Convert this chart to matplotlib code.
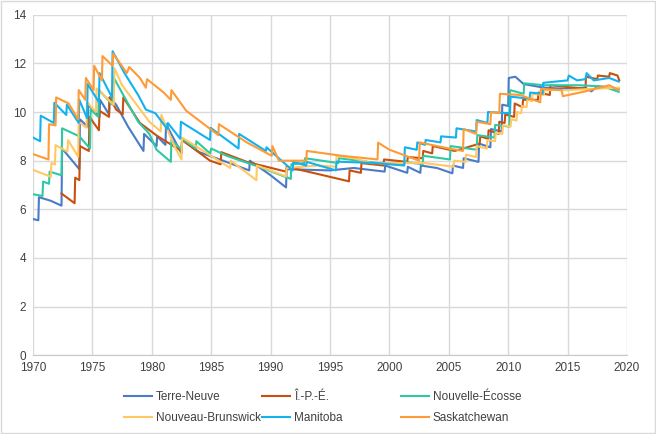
import matplotlib.pyplot as plt
from matplotlib.patches import Rectangle

plt.rcParams['font.family'] = ['Liberation Sans', 'DejaVu Sans']

# salaire minimum réel, points de rupture
tn_years = [1970.0, 1970.45, 1970.5, 1971.5, 1972.4, 1972.45, 1973.9, 1973.95, 1974.6, 1974.65,
            1975.6, 1975.65, 1976.4, 1976.45, 1977.0, 1978.0, 1979.3, 1979.35, 1980.4, 1980.45,
            1981.15, 1981.2, 1982.5, 1982.55, 1984.0, 1986.0, 1988.2, 1988.25, 1990.0, 1991.3,
            1991.35, 1995.0, 1997.0, 1999.6, 1999.65, 2001.5, 2001.55, 2002.6, 2002.65, 2004.0,
            2005.3, 2005.35, 2006.2, 2006.25, 2007.5, 2007.55, 2008.5, 2008.55, 2009.45, 2009.5,
            2010.0, 2010.05, 2010.6, 2011.3, 2013.0, 2015.0, 2016.5, 2017.0, 2017.5, 2019.3]
tn_vals = [5.6, 5.55, 6.5, 6.35, 6.15, 8.5, 7.65, 9.7, 9.4, 10.3,
           9.8, 10.5, 9.9, 10.6, 10.3, 9.4, 8.4, 9.1, 8.6, 9.0,
           8.65, 9.5, 8.3, 8.85, 8.35, 8.0, 7.6, 8.0, 7.4, 6.9,
           7.65, 7.6, 7.7, 7.55, 7.8, 7.5, 7.75, 7.5, 7.8, 7.7,
           7.48, 7.8, 7.7, 8.1, 7.95, 8.7, 8.55, 9.3, 9.2, 10.3,
           10.25, 11.4, 11.45, 11.15, 11.0, 10.95, 11.0, 10.85, 11.05, 10.95]

ipe_years = [1972.4, 1973.5, 1973.55, 1973.9, 1973.95, 1974.7, 1974.75, 1975.55, 1975.6, 1976.4,
             1976.45, 1977.0, 1977.55, 1977.6, 1979.0, 1980.5, 1982.5, 1982.55, 1984.9, 1985.8,
             1985.85, 1988.0, 1991.3, 1991.35, 1994.0, 1996.6, 1996.65, 1997.6, 1997.65, 1999.5,
             1999.55, 2001.5, 2001.55, 2002.8, 2002.85, 2003.6, 2003.65, 2005.5, 2007.6, 2007.65,
             2008.3, 2008.35, 2009.2, 2009.25, 2009.7, 2009.75, 2010.5, 2010.55, 2011.2, 2011.25,
             2012.5, 2012.55, 2013.5, 2013.55, 2016.5, 2016.55, 2017.5, 2017.55, 2018.5, 2018.55,
             2019.2, 2019.35]
ipe_vals = [6.65, 6.25, 7.3, 7.2, 8.6, 8.4, 9.8, 9.25, 10.05, 9.8,
            10.6, 10.1, 9.9, 10.6, 9.55, 9.0, 8.4, 8.85, 8.0, 7.85,
            8.35, 7.95, 7.55, 7.75, 7.45, 7.15, 7.6, 7.5, 7.9, 7.8,
            8.05, 7.95, 8.15, 8.1, 8.4, 8.3, 8.6, 8.4, 8.7, 9.0,
            8.9, 9.25, 9.1, 9.6, 9.55, 9.9, 9.8, 10.35, 10.2, 10.5,
            10.5, 10.8, 10.7, 11.1, 10.95, 11.45, 11.35, 11.5, 11.45, 11.6,
            11.5, 11.3]

ne_years = [1970.0, 1970.8, 1970.85, 1971.35, 1971.4, 1972.4, 1972.45, 1973.9, 1974.8, 1974.85,
            1975.5, 1975.55, 1976.7, 1976.75, 1977.6, 1978.85, 1979.8, 1980.4, 1981.6, 1981.65,
            1982.5, 1982.55, 1983.7, 1983.75, 1984.9, 1985.0, 1986.3, 1989.0, 1991.7, 1991.75,
            1992.85, 1992.9, 1995.7, 1995.75, 1999.0, 2001.2, 2001.25, 2002.8, 2002.85, 2005.1,
            2005.15, 2007.35, 2007.4, 2008.85, 2008.9, 2010.1, 2010.15, 2011.3, 2011.35, 2013.0,
            2016.0, 2018.0, 2019.3]
ne_vals = [6.62, 6.55, 7.14, 7.05, 7.55, 7.4, 9.33, 9.0, 8.5, 10.1,
           9.8, 10.9, 10.3, 11.45, 10.7, 9.6, 9.1, 8.45, 7.95, 8.85,
           8.45, 8.9, 8.5, 8.8, 8.3, 8.5, 8.2, 7.75, 7.25, 7.85,
           7.9, 8.1, 7.9, 8.1, 7.9, 7.82, 7.95, 7.85, 8.2, 8.05,
           8.6, 8.45, 9.05, 8.95, 9.47, 9.4, 10.9, 10.75, 11.18, 11.1,
           11.1, 11.05, 10.83]

nb_years = [1970.0, 1971.5, 1971.55, 1971.85, 1971.9, 1972.9, 1972.95, 1973.8, 1973.85, 1974.5,
            1974.55, 1975.3, 1975.35, 1976.8, 1976.85, 1977.5, 1979.8, 1980.75, 1980.8, 1981.9,
            1982.5, 1982.55, 1986.6, 1986.65, 1988.8, 1988.85, 1991.3, 1991.35, 1994.0, 1995.5,
            1995.55, 1997.0, 1998.5, 2003.0, 2005.4, 2005.45, 2006.4, 2006.45, 2007.3, 2007.35,
            2008.2, 2008.25, 2008.9, 2008.95, 2009.5, 2009.55, 2010.2, 2010.25, 2010.7, 2010.75,
            2011.1, 2011.15, 2011.55, 2011.6, 2012.0, 2012.05, 2013.0, 2013.05, 2015.0, 2017.0,
            2019.3]
nb_vals = [7.62, 7.34, 7.9, 7.85, 8.64, 8.37, 8.85, 8.16, 9.6, 9.35,
           10.4, 10.0, 10.97, 10.3, 11.8, 11.1, 9.6, 9.2, 9.88, 8.6,
           8.05, 8.95, 7.7, 8.0, 7.2, 7.8, 7.35, 7.7, 7.8, 7.75,
           8.2, 8.1, 7.9, 7.9, 7.75, 8.0, 7.95, 8.25, 8.15, 8.6,
           8.5, 8.85, 8.8, 9.15, 9.1, 9.45, 9.4, 9.7, 9.65, 10.0,
           9.95, 10.25, 10.2, 10.5, 10.45, 10.75, 10.7, 10.9, 10.9, 10.95,
           11.0]

mb_years = [1970.0, 1970.6, 1970.65, 1971.75, 1971.8, 1972.8, 1972.85, 1973.85, 1973.9, 1974.55,
            1974.6, 1975.55, 1975.6, 1976.65, 1976.7, 1977.7, 1978.85, 1979.5, 1980.3, 1981.3,
            1981.35, 1982.4, 1982.45, 1984.9, 1984.95, 1987.3, 1987.35, 1989.6, 1989.65, 1991.85,
            1991.9, 1993.0, 1993.05, 1995.5, 1995.55, 1999.0, 2001.25, 2001.3, 2002.3, 2002.35,
            2003.0, 2003.05, 2004.3, 2004.35, 2005.6, 2005.65, 2007.3, 2007.35, 2008.25, 2008.3,
            2010.15, 2010.2, 2011.8, 2011.85, 2012.9, 2012.95, 2015.0, 2015.1, 2015.8, 2016.5,
            2016.6, 2017.2, 2018.5, 2019.3]
mb_vals = [8.95, 8.8, 9.85, 9.55, 10.38, 9.88, 10.3, 9.55, 10.5, 9.75,
           11.15, 10.4, 11.6, 10.6, 12.5, 11.6, 10.7, 10.1, 9.95, 9.3,
           9.55, 8.9, 9.6, 8.85, 9.35, 8.5, 9.1, 8.4, 8.55, 7.6,
           7.95, 7.8, 7.95, 7.6, 7.96, 7.9, 7.8, 8.55, 8.45, 8.75,
           8.65, 8.85, 8.75, 9.0, 8.95, 9.33, 9.2, 9.67, 9.55, 10.0,
           9.95, 10.63, 10.55, 10.8, 10.75, 11.2, 11.3, 11.5, 11.3, 11.35,
           11.6, 11.3, 11.4, 11.25]

sk_years = [1970.0, 1971.3, 1971.35, 1971.9, 1971.95, 1973.0, 1973.8, 1973.85, 1974.4, 1974.45,
            1975.1, 1975.15, 1975.8, 1975.85, 1976.7, 1976.75, 1977.9, 1978.1, 1979.0, 1979.5,
            1979.6, 1981.0, 1981.6, 1981.65, 1982.9, 1985.6, 1985.65, 1988.0, 1990.1, 1990.15,
            1990.7, 1993.0, 1993.05, 1996.0, 1999.0, 1999.05, 2000.0, 2002.5, 2002.55, 2005.0,
            2006.2, 2006.25, 2007.3, 2007.35, 2008.5, 2008.55, 2009.25, 2009.3, 2011.0, 2012.7,
            2012.75, 2014.5, 2014.6, 2016.5, 2018.5, 2019.3]
sk_vals = [8.27, 8.05, 9.5, 9.45, 10.6, 10.35, 9.7, 10.9, 10.5, 11.4,
           10.9, 11.9, 11.3, 12.3, 11.9, 12.4, 11.6, 11.85, 11.4, 11.0,
           11.35, 10.8, 10.5, 10.9, 10.05, 9.05, 9.5, 8.75, 8.2, 8.6,
           8.0, 8.0, 8.4, 8.2, 8.05, 8.74, 8.45, 8.0, 8.75, 8.5,
           8.4, 9.3, 9.1, 9.6, 9.5, 10.0, 9.95, 10.75, 10.7, 10.4,
           10.95, 10.9, 10.65, 10.85, 11.1, 10.9]

series = [
    ('Terre-Neuve', tn_years, tn_vals, '#4A7BC8'),
    ('Î.-P.-É.', ipe_years, ipe_vals, '#C8500E'),
    ('Nouvelle-Écosse', ne_years, ne_vals, '#2EC9A2'),
    ('Nouveau-Brunswick', nb_years, nb_vals, '#FFC862'),
    ('Manitoba', mb_years, mb_vals, '#12B2EE'),
    ('Saskatchewan', sk_years, sk_vals, '#FF9A36'),
]

fig = plt.figure(figsize=(6.56, 4.34), dpi=100)
fig.patches.append(Rectangle((0.002, 0.002), 0.996, 0.995, transform=fig.transFigure,
                             fill=False, edgecolor='#D9D9D9', linewidth=1))
ax = fig.add_axes([33 / 656, 1 - 355.3 / 434, 594 / 656, 340.6 / 434])

lines = []
for name, xs, ys, col in series:
    ln, = ax.plot(xs, ys, color=col, lw=1.5, label=name, solid_joinstyle='round')
    lines.append(ln)

ax.set_xlim(1970, 2020)
ax.set_ylim(0, 14)
ax.set_xticks(range(1970, 2021, 5))
ax.set_yticks(range(0, 15, 2))
ax.grid(True, color='#D9D9D9', lw=1)
ax.set_axisbelow(True)
for s in ['top', 'right', 'left']:
    ax.spines[s].set_visible(False)
ax.spines['bottom'].set_color('#C8C8C8')
ax.tick_params(length=0, labelsize=8.5, labelcolor='#404040', pad=5)

# legende en trois colonnes de largeur egale, comme dans Excel
col_x = [124, 262, 401]
for i, x in enumerate(col_x):
    fig.legend(handles=[lines[i], lines[i + 3]], loc='upper left',
               bbox_to_anchor=(x / 656, 1 - 391 / 434), frameon=False,
               fontsize=8.5, handlelength=2.4, handletextpad=0.3,
               labelspacing=0.8, borderpad=0, borderaxespad=0,
               labelcolor='#404040')

fig.savefig('out.png', dpi=100)
